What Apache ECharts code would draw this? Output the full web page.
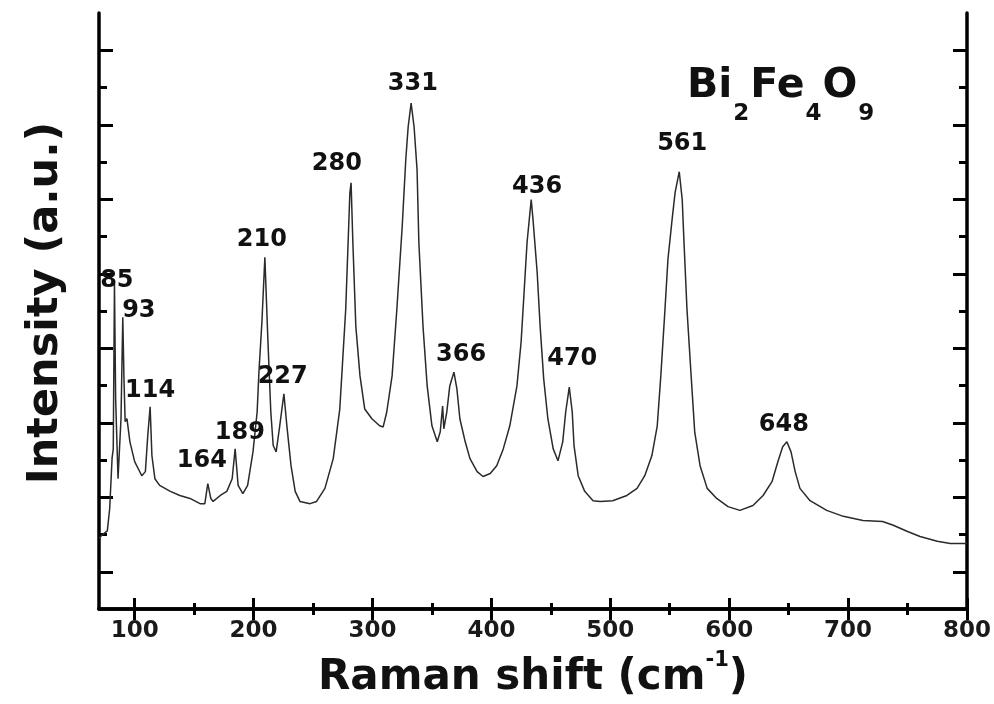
<!DOCTYPE html>
<html>
<head>
<meta charset="utf-8">
<script src="https://cdn.jsdelivr.net/npm/echarts@6/dist/echarts.min.js"></script>
<style>
  html, body { margin: 0; padding: 0; background: #fff; }
  #chart { width: 994px; height: 704px; }
</style>
</head>
<body>
<div id="chart"></div>
<script>
// spectrum (intensity in arbitrary units)
const ramanShift = [70, 73, 77, 79, 81, 82, 83, 84, 86, 88.5, 90, 91, 92, 93.5, 96, 100, 106, 109, 111, 113, 114.5, 117, 121, 130, 138, 146.5, 155, 159, 161.5, 164, 166, 172, 177.5, 182, 184.5, 187, 191, 195, 199.5, 203, 204.5, 207, 209.5, 212, 214.5, 216.5, 219, 222, 225.5, 228, 231.5, 235, 239, 247.5, 253, 260, 267, 272.5, 275, 277.5, 279.5, 281, 282, 283.5, 286, 289.5, 293.5, 299.5, 306, 309, 312, 316.5, 320.5, 325, 328, 330, 332.5, 335, 337.5, 339, 342.5, 346, 350, 354.5, 357, 359, 360, 362.5, 365, 368.5, 371, 373.5, 378, 382, 388, 393, 399, 404.5, 410, 415.5, 421.5, 425, 427.5, 430, 433.5, 435, 438.5, 441, 444, 447.5, 452, 456, 460, 462.5, 465.5, 468, 469.5, 473, 478.5, 485.5, 491.5, 502, 514, 522.5, 529, 535, 539.5, 542.5, 546, 548.5, 552, 554.5, 558, 560.5, 562, 564.5, 568, 571, 575.5, 581.5, 589.5, 599, 609, 620, 628.5, 636, 641, 645, 648.5, 652, 655.5, 659.5, 668, 682, 696, 712.5, 729, 738, 749.5, 760.5, 775, 786, 800];
const intensity = [190, 200, 210, 270, 405, 430, 877, 564, 350, 511, 783, 618, 503, 511, 449, 396, 358, 369, 465, 543, 412, 350, 332, 316, 305, 297, 283, 283, 337, 297, 289, 305, 316, 350, 430, 332, 310, 332, 422, 529, 636, 770, 944, 725, 529, 439, 422, 492, 578, 492, 385, 316, 289, 283, 289, 324, 404, 537, 671, 805, 984, 1118, 1144, 984, 759, 626, 537, 511, 492, 489, 529, 626, 805, 1027, 1206, 1294, 1358, 1294, 1179, 984, 759, 599, 492, 449, 476, 545, 484, 529, 599, 636, 591, 511, 449, 404, 369, 356, 364, 385, 430, 492, 599, 717, 850, 984, 1099, 1046, 904, 759, 618, 511, 430, 398, 449, 529, 596, 529, 439, 358, 316, 291, 289, 291, 305, 324, 358, 412, 492, 626, 805, 939, 1046, 1118, 1174, 1099, 984, 805, 626, 476, 385, 324, 297, 275, 265, 278, 305, 342, 396, 436, 449, 422, 369, 324, 291, 265, 249, 238, 235, 225, 209, 195, 182, 176, 176];

// peak annotations
const peakNames = ['85', '93', '114', '164', '189', '210', '227', '280', '331', '366', '436', '470', '561', '648'];
const peakLabelX = [85, 103.5, 113, 156.5, 188.5, 207, 224.5, 270, 334, 374.5, 438.5, 468, 560.5, 646];
const peakLabelY = [880, 800, 586, 398, 473, 992, 623, 1195, 1409, 682, 1134, 671, 1249, 495];

// axis ticks
const xMajorTicks = [100, 200, 300, 400, 500, 600, 700, 800];
const xMinorTicks = [150, 250, 350, 450, 550, 650, 750];
const yMajorTicks = [100, 300, 500, 700, 900, 1100, 1300, 1500];
const yMinorTicks = [200, 400, 600, 800, 1000, 1200, 1400];

const FONT = 'DejaVu Sans';
const chart = echarts.init(document.getElementById('chart'));

const lineData = ramanShift.map((x, i) => [x, intensity[i]]);
const labelData = peakNames.map((n, i) => ({ name: n, value: [peakLabelX[i], peakLabelY[i]] }));

const frame = { show: true, lineStyle: { color: '#000', width: 3.5 } };
const noLine = { show: false };

function xAx(pos, ticks, len, withLabel, line) {
  return {
    type: 'value', position: pos, min: 70, max: 800,
    axisLine: line ? frame : noLine,
    splitLine: { show: false },
    axisTick: { show: true, inside: true, length: len, customValues: ticks, lineStyle: { color: '#000', width: 3 } },
    axisLabel: withLabel
      ? { show: true, customValues: ticks, margin: 10, fontFamily: FONT, fontWeight: 'bold', fontSize: 23, color: '#1a1a1a' }
      : { show: false }
  };
}
function yAx(pos, ticks, len, line) {
  return {
    type: 'value', position: pos, min: 0, max: 1600,
    axisLine: line ? frame : noLine,
    splitLine: { show: false },
    axisTick: { show: true, inside: true, length: len, customValues: ticks, lineStyle: { color: '#000', width: 3 } },
    axisLabel: { show: false }
  };
}

const xAxes = [
  xAx('bottom', xMajorTicks, 11, true, true),
  xAx('top', xMajorTicks, 11, false, true),
  xAx('bottom', xMinorTicks, 6, false, false),
  xAx('top', xMinorTicks, 6, false, false)
];
xAxes[0].name = '{n|Raman shift (cm}{s|-1}{n|)}';
xAxes[0].nameLocation = 'middle';
xAxes[0].nameGap = 31;
xAxes[0].nameTextStyle = {
  rich: {
    n: { fontFamily: FONT, fontWeight: 'bold', fontSize: 42, lineHeight: 46, padding: [10, 0, 0, 0], color: '#111' },
    s: { fontFamily: FONT, fontWeight: 'bold', fontSize: 21, lineHeight: 22, verticalAlign: 'top', color: '#111' }
  }
};

const yAxes = [
  yAx('left', yMajorTicks, 14, true),
  yAx('right', yMajorTicks, 14, true),
  yAx('left', yMinorTicks, 8, false),
  yAx('right', yMinorTicks, 8, false)
];
yAxes[0].name = 'Intensity (a.u.)';
yAxes[0].nameLocation = 'middle';
yAxes[0].nameGap = 32;
yAxes[0].nameTextStyle = { fontFamily: FONT, fontWeight: 'bold', fontSize: 43, color: '#111', padding: [0, 0, 0, 16] };

chart.setOption({
  animation: false,
  backgroundColor: '#fff',
  title: {
    text: '{m|Bi}{s|2}{m|Fe}{s|4}{m|O}{s|9}',
    left: 687, top: 66, padding: 0,
    textStyle: {
      rich: {
        m: { fontFamily: FONT, fontWeight: 'bold', fontSize: 41, lineHeight: 46, verticalAlign: 'top', color: '#111' },
        s: { fontFamily: FONT, fontWeight: 'bold', fontSize: 23, lineHeight: 24, padding: [37, 1, 0, 1], verticalAlign: 'top', color: '#111' }
      }
    }
  },
  grid: { left: 99, right: 27, top: 13, bottom: 93 },
  xAxis: xAxes,
  yAxis: yAxes,
  series: [
    {
      type: 'line', xAxisIndex: 0, yAxisIndex: 0,
      data: lineData, showSymbol: false, symbol: 'none',
      lineStyle: { color: '#2a2a2a', width: 1.5 },
      z: 2
    },
    {
      type: 'scatter', xAxisIndex: 0, yAxisIndex: 0,
      data: labelData, symbolSize: 0,
      itemStyle: { color: '#111', opacity: 1 },
      label: {
        show: true, position: 'inside', formatter: '{b}',
        fontFamily: FONT, fontWeight: 'bold', fontSize: 24, color: '#111',
        textBorderWidth: 0, opacity: 1
      },
      z: 3
    }
  ]
});
</script>
</body>
</html>
